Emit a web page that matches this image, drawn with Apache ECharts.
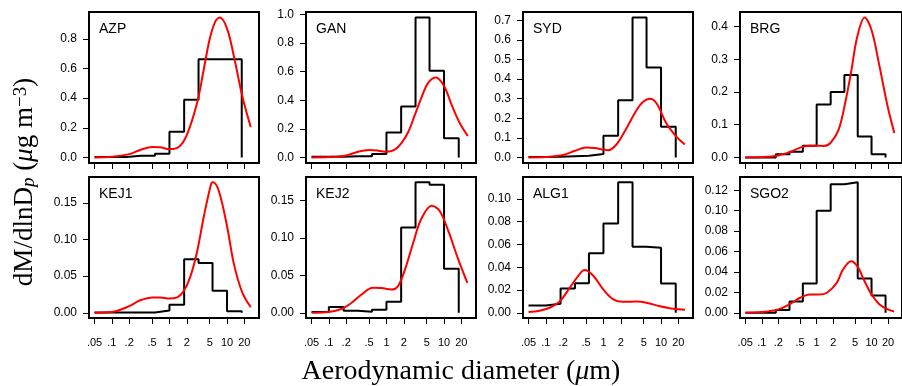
<!DOCTYPE html>
<html><head><meta charset="utf-8">
<script src="https://cdn.jsdelivr.net/npm/echarts@6/dist/echarts.min.js"></script>
<style>html,body{margin:0;padding:0;background:#fff}#c{width:902px;height:386px}</style>
</head><body><div id="c"></div>
<script>
// ---------------- data ----------------
const binEdges = [0.05, 0.1, 0.18, 0.32, 0.56, 1.0, 1.8, 3.2, 5.6, 10, 18];
const xTickValues = [0.05, 0.1, 0.2, 0.5, 1, 2, 5, 10, 20];
const xTickLabels = ['.05', '.1', '.2', '.5', '1', '2', '5', '10', '20'];
const siteNames = ['AZP', 'GAN', 'SYD', 'BRG', 'KEJ1', 'KEJ2', 'ALG1', 'SGO2'];

const histAZP  = [0.003, 0.003, 0.011, 0.011, 0.025, 0.173, 0.39, 0.663, 0.663, 0.663];
const histGAN  = [0.004, 0.004, 0.008, 0.008, 0.023, 0.175, 0.357, 0.979, 0.606, 0.135];
const histSYD  = [0.002, 0.003, 0.006, 0.009, 0.018, 0.11, 0.292, 0.714, 0.459, 0.156];
const histBRG  = [0, 0, 0.010, 0.017, 0.036, 0.162, 0.200, 0.252, 0.064, 0.010];
const histKEJ1 = [0.0005, 0.0005, 0.0005, 0.0005, 0.003, 0.011, 0.073, 0.068, 0.030, 0.002];
const histKEJ2 = [0.001, 0.0076, 0.0027, 0.0013, 0.004, 0.0147, 0.114, 0.1745, 0.171, 0.059];
const histALG1 = [0.0064, 0.0079, 0.0213, 0.026, 0.0523, 0.0784, 0.1146, 0.0579, 0.057, 0.0257];
const histSGO2 = [0, 0, 0.0026, 0.011, 0.0287, 0.0998, 0.1259, 0.1278, 0.0336, 0.017];

const fitAZPx  = [0.05, 0.1, 0.2, 0.31, 0.5, 0.69, 1.0, 1.45, 2.0, 3.03, 3.97, 5.0, 6.3, 7.5, 10, 13.2, 18.5, 25.8];
const fitAZPy  = [0.000, 0.004, 0.022, 0.05, 0.07, 0.068, 0.056, 0.07, 0.15, 0.37, 0.60, 0.80, 0.92, 0.944, 0.87, 0.68, 0.41, 0.205];
const fitGANx  = [0.05, 0.1, 0.2, 0.32, 0.5, 0.72, 1.0, 1.4, 1.82, 2.4, 3.1, 4.1, 5.3, 7.2, 10, 13.6, 18.2, 25.8];
const fitGANy  = [0.0, 0.003, 0.014, 0.04, 0.051, 0.047, 0.04, 0.055, 0.1, 0.18, 0.296, 0.424, 0.522, 0.56, 0.5, 0.366, 0.25, 0.15];
const fitSYDx  = [0.05, 0.1, 0.2, 0.32, 0.5, 0.7, 1.0, 1.2, 1.68, 2.5, 3.75, 4.9, 6.4, 8.4, 12.4, 18.6, 26];
const fitSYDy  = [0, 0.002, 0.012, 0.034, 0.05, 0.048, 0.04, 0.037, 0.066, 0.148, 0.241, 0.284, 0.299, 0.275, 0.173, 0.105, 0.066];
const fitBRGx  = [0.05, 0.1, 0.2, 0.33, 0.5, 0.72, 1.0, 1.35, 1.8, 2.5, 3.2, 4.2, 5.5, 7.5, 10, 14, 19.7, 26];
const fitBRGy  = [0, 0.001, 0.006, 0.017, 0.03, 0.036, 0.036, 0.035, 0.045, 0.084, 0.155, 0.257, 0.37, 0.428, 0.39, 0.278, 0.155, 0.075];
const fitKEJ1x = [0.05, 0.1, 0.2, 0.31, 0.51, 0.69, 1.0, 1.36, 1.78, 2.32, 3.03, 3.97, 5.3, 5.7, 7.2, 10, 13.2, 18.5, 25.8];
const fitKEJ1y = [0, 0.001, 0.009, 0.017, 0.021, 0.021, 0.0195, 0.021, 0.03, 0.05, 0.084, 0.132, 0.176, 0.178, 0.166, 0.118, 0.066, 0.027, 0.0077];
const fitKEJ2x = [0.05, 0.1, 0.165, 0.245, 0.37, 0.58, 0.82, 1.22, 1.6, 2.1, 2.9, 4.0, 6.1, 8.4, 11.9, 17.7, 25.4];
const fitKEJ2y = [0, 0.001, 0.005, 0.013, 0.0245, 0.0334, 0.033, 0.031, 0.036, 0.058, 0.093, 0.125, 0.143, 0.136, 0.109, 0.071, 0.04];
const fitALG1x = [0.05, 0.078, 0.116, 0.174, 0.26, 0.36, 0.47, 0.66, 0.99, 1.48, 2.2, 3.8, 5.6, 9.6, 16.4, 26];
const fitALG1y = [0.0006, 0.0018, 0.0044, 0.010, 0.022, 0.032, 0.0375, 0.0327, 0.0205, 0.0117, 0.0096, 0.0099, 0.0088, 0.0058, 0.0035, 0.0026];
const fitSGO2x = [0.05, 0.1, 0.2, 0.33, 0.5, 0.74, 1.1, 1.54, 2.3, 3.0, 4.2, 5.5, 7.2, 10, 14, 19.7, 25.8];
const fitSGO2y = [0, 0.0007, 0.0033, 0.0088, 0.0147, 0.0179, 0.0179, 0.0196, 0.029, 0.042, 0.0505, 0.0456, 0.0326, 0.0179, 0.0082, 0.0033, 0.0013];

const yTicksAZP  = [0, 0.2, 0.4, 0.6, 0.8];
const yTicksGAN  = [0, 0.2, 0.4, 0.6, 0.8, 1.0];
const yTicksSYD  = [0, 0.1, 0.2, 0.3, 0.4, 0.5, 0.6, 0.7];
const yTicksBRG  = [0, 0.1, 0.2, 0.3, 0.4];
const yTicksKEJ1 = [0, 0.05, 0.10, 0.15];
const yTicksKEJ2 = [0, 0.05, 0.10, 0.15];
const yTicksALG1 = [0, 0.02, 0.04, 0.06, 0.08, 0.10];
const yTicksSGO2 = [0, 0.02, 0.04, 0.06, 0.08, 0.10, 0.12];

// ---------------- layout ----------------
const panels = [
  {hist: histAZP,  fx: fitAZPx,  fy: fitAZPy,  yt: yTicksAZP,  dec: 1},
  {hist: histGAN,  fx: fitGANx,  fy: fitGANy,  yt: yTicksGAN,  dec: 1},
  {hist: histSYD,  fx: fitSYDx,  fy: fitSYDy,  yt: yTicksSYD,  dec: 1},
  {hist: histBRG,  fx: fitBRGx,  fy: fitBRGy,  yt: yTicksBRG,  dec: 1},
  {hist: histKEJ1, fx: fitKEJ1x, fy: fitKEJ1y, yt: yTicksKEJ1, dec: 2},
  {hist: histKEJ2, fx: fitKEJ2x, fy: fitKEJ2y, yt: yTicksKEJ2, dec: 2},
  {hist: histALG1, fx: fitALG1x, fy: fitALG1y, yt: yTicksALG1, dec: 2},
  {hist: histSGO2, fx: fitSGO2x, fy: fitSGO2y, yt: yTicksSGO2, dec: 2}
];
const colLeft = [89, 306, 523, 740];
const boxW = 170;
const rowTop = [12, 177];
const boxH = [151, 141];
const X_MIN = -1.397, X_MAX = 1.555;   // log10 diameter extent of each panel

const L10 = Math.log10;
const xTickLogs = xTickValues.map(L10);
const sans = 'Liberation Sans, Arial, Helvetica, sans-serif';
const serif = 'Liberation Serif, Times New Roman, serif';

const grid = [], xAxis = [], yAxis = [], series = [], graphic = [];
panels.forEach((p, i) => {
  const r = Math.floor(i / 4), c = i % 4;
  grid.push({left: colLeft[c], top: rowTop[r], width: boxW, height: boxH[r],
    show: true, borderColor: '#000', borderWidth: 2, backgroundColor: 'rgba(0,0,0,0)'});
  xAxis.push({gridIndex: i, type: 'value', min: X_MIN, max: X_MAX,
    axisLine: {show: false, onZero: false}, splitLine: {show: false},
    axisTick: {show: true, customValues: xTickLogs, length: 6, lineStyle: {color: '#000', width: 1}},
    axisLabel: {show: r === 1, customValues: xTickLogs, margin: 19, fontSize: 11, color: '#000', fontFamily: sans,
      formatter: v => { let k = 0, b = 1e9; xTickLogs.forEach((t, j) => { if (Math.abs(t - v) < b) { b = Math.abs(t - v); k = j; } }); return xTickLabels[k]; }}
  });
  const all = p.hist.concat(p.fy);
  const M = Math.max.apply(null, all);
  yAxis.push({gridIndex: i, type: 'value', min: -0.04 * M, max: 1.04 * M,
    axisLine: {show: false, onZero: false}, splitLine: {show: false},
    axisTick: {show: true, customValues: p.yt, length: 6, lineStyle: {color: '#000', width: 1}},
    axisLabel: {customValues: p.yt, margin: 12, fontSize: 12, color: '#000', fontFamily: sans,
      formatter: v => v.toFixed(p.dec)}
  });
  const hd = binEdges.map((e, k) => [L10(e), k < p.hist.length ? p.hist[k] : 0]);
  series.push({type: 'line', xAxisIndex: i, yAxisIndex: i, data: hd, step: 'end',
    symbol: 'none', lineStyle: {color: '#000', width: 2}, silent: true, z: 2});
  series.push({type: 'line', xAxisIndex: i, yAxisIndex: i, data: p.fx.map((x, k) => [L10(x), p.fy[k]]),
    smooth: 0.35, symbol: 'none', lineStyle: {color: '#ff0000', width: 2}, silent: true, z: 3});
  graphic.push({type: 'text', left: colLeft[c] + 10, top: rowTop[r] + 10,
    style: {text: siteNames[i], font: '14px ' + sans, fill: '#000'}, z: 10});
});

graphic.push({type: 'text', x: 461, y: 372,
  style: {text: 'Aerodynamic diameter ({i|μ}m)', font: '28px ' + serif, fill: '#000', align: 'center', verticalAlign: 'middle',
    rich: {i: {fontStyle: 'italic', fontSize: 28, fontFamily: serif}}}, z: 10});
graphic.push({type: 'text', x: 25, y: 182, rotation: Math.PI / 2,
  style: {text: 'dM/dlnD{s|p} ({i|μ}g m{u|−3})', font: '27px ' + serif, fill: '#000', align: 'center', verticalAlign: 'middle',
    rich: {
      s: {fontSize: 19, fontFamily: serif, fontStyle: 'italic', verticalAlign: 'bottom', lineHeight: 19},
      i: {fontSize: 27, fontFamily: serif, fontStyle: 'italic'},
      u: {fontSize: 19, fontFamily: serif, verticalAlign: 'top', lineHeight: 19}
    }}, z: 10});

const chart = echarts.init(document.getElementById('c'), null, {renderer: 'canvas'});
chart.setOption({animation: false, textStyle: {fontFamily: sans}, grid, xAxis, yAxis, series, graphic});
</script></body></html>
